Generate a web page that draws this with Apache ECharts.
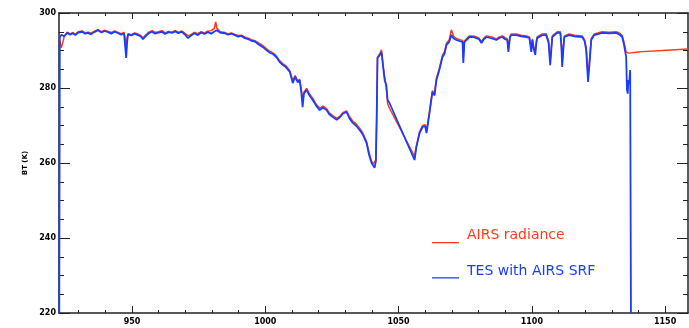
<!DOCTYPE html>
<html>
<head>
<meta charset="utf-8">
<title>AIRS vs TES brightness temperature</title>
<script src="https://cdn.jsdelivr.net/npm/echarts@6/dist/echarts.min.js"></script>
<style>
  html, body { margin: 0; padding: 0; background: #fff; }
  #chart { width: 689px; height: 328px; }
</style>
</head>
<body>
<div id="chart"></div>
<script>
// Wavenumber (cm-1) shared by both spectra
const wavenumber = [
  922.7, 922.9, 923.5, 924.5, 925.7, 926.8, 927.8, 928.7, 929.8, 931.3,
  932.4, 933.5, 934.6, 935.8, 937.3, 938.5, 939.7, 941.0, 942.2, 943.5,
  944.8, 945.9, 947.0, 947.5, 947.8, 948.2, 948.5, 949.8, 951.0, 952.2,
  953.2, 954.1, 955.2, 956.3, 957.5, 958.7, 960.0, 961.2, 962.4, 963.7,
  965.0, 966.2, 967.4, 968.7, 969.9, 971.0, 972.2, 973.4, 974.7, 975.9,
  977.2, 978.5, 979.7, 980.8, 981.4, 981.8, 983.0, 984.8, 986.0, 987.3,
  988.6, 989.8, 991.0, 992.3, 993.6, 994.8, 996.1, 997.5, 999.1, 1000.3,
  1001.7, 1003.0, 1004.2, 1005.4, 1006.5, 1007.8, 1009.2, 1010.3, 1011.2, 1012.2,
  1012.9, 1013.5, 1014.0, 1014.5, 1015.5, 1016.6, 1017.8, 1018.9, 1020.4, 1021.6,
  1023.0, 1024.0, 1025.2, 1026.8, 1028.0, 1029.2, 1030.5, 1031.5, 1032.8, 1034.0,
  1035.4, 1036.6, 1038.0, 1039.0, 1039.9, 1040.5, 1041.0, 1041.5, 1041.8, 1042.1,
  1043.0, 1043.6, 1044.3, 1044.8, 1045.4, 1045.9, 1046.6, 1056.0, 1056.7, 1057.9,
  1059.0, 1060.0, 1060.5, 1061.6, 1062.7, 1063.5, 1064.2, 1065.3, 1066.5, 1067.2,
  1068.0, 1069.0, 1069.8, 1070.7, 1071.7, 1073.0, 1074.0, 1074.3, 1074.7, 1075.5,
  1076.6, 1078.0, 1079.2, 1080.2, 1081.1, 1082.0, 1083.0, 1085.0, 1086.7, 1088.0,
  1088.9, 1090.0, 1090.8, 1091.2, 1091.8, 1092.3, 1094.2, 1096.0, 1098.0, 1099.1,
  1099.8, 1100.2, 1100.7, 1101.3, 1101.7, 1102.0, 1103.9, 1105.4, 1106.3, 1106.9,
  1107.3, 1107.7, 1109.5, 1110.7, 1111.1, 1111.4, 1111.8, 1112.2, 1114.0, 1116.0,
  1118.9, 1119.8, 1120.4, 1121.1, 1121.6, 1122.3, 1123.4, 1126.4, 1129.0, 1131.6,
  1133.0, 1133.9, 1134.6, 1135.4, 1135.7, 1136.0, 1136.2, 1136.5, 1136.9, 1137.2,
  1140.0, 1141.5, 1149.0, 1158.6
];

// AIRS radiance brightness temperature (K)
const airsBT = [
  null, 292.5, 290.7, 293.6, 294.9, 294.4, 294.8, 294.3, 295.0, 295.2,
  294.7, 294.9, 294.6, 295.1, 295.6, 295.0, 295.4, 295.1, 294.8, 295.2,
  294.8, 294.5, 294.8, 293.0, 291.5, 293.6, 294.5, 294.2, 294.7, 294.4,
  294.0, 293.4, 294.2, 294.9, 295.3, 294.8, 295.0, 295.3, 294.7, 295.1,
  294.9, 295.3, 294.9, 295.2, 294.6, 293.9, 294.3, 294.8, 294.5, 295.0,
  294.7, 295.2, 295.3, 295.8, 297.6, 296.0, 295.0, 294.8, 294.4, 294.7,
  294.3, 294.0, 294.1, 293.6, 293.3, 292.9, 292.6, 292.0, 291.3, 290.6,
  289.8, 289.3, 288.5, 287.3, 286.5, 285.9, 284.6, 282.0, 283.3, 281.8,
  282.4, 279.6, 277.0, 278.9, 279.9, 278.4, 277.3, 275.9, 274.6, 275.2,
  274.5, 273.4, 272.7, 271.9, 272.5, 273.5, 273.9, 272.5, 271.2, 270.5,
  269.3, 268.0, 265.7, 262.6, 260.4, 259.7, 259.2, 260.8, 272.5, 288.2,
  289.2, 290.2, 285.6, 282.8, 280.0, 275.8, 274.6, 261.8, 264.6, 268.4,
  270.0, 270.2, 268.5, 273.7, 279.3, 278.5, 282.6, 285.2, 288.8, 289.6,
  292.0, 292.8, 295.5, 293.8, 293.2, 292.9, 292.7, 288.0, 292.5, 293.1,
  293.9, 293.9, 293.6, 293.3, 292.4, 293.3, 293.9, 293.6, 293.1, 293.7,
  293.9, 293.4, 293.1, 290.5, 293.8, 294.4, 294.4, 294.1, 293.9, 293.6,
  290.6, 293.1, 291.0, 289.8, 292.4, 293.6, 294.4, 294.5, 292.6, 287.4,
  290.6, 293.9, 295.0, 295.0, 291.8, 287.0, 290.8, 293.9, 294.4, 294.1,
  293.9, 292.9, 290.8, 283.2, 287.0, 293.2, 294.4, 295.0, 294.9, 295.0,
  294.6, 294.0, 292.2, 289.5, 289.3, 289.3, 289.3, 289.3, 289.3, 289.4,
  289.6, 289.7, 290.0, 290.4
];

// TES convolved with AIRS SRF brightness temperature (K)
const tesBT = [
  220.0, 293.5, 294.2, 293.8, 294.7, 294.2, 294.6, 294.1, 294.8, 295.0,
  294.5, 294.7, 294.3, 294.9, 295.4, 294.8, 295.2, 294.9, 294.5, 295.0,
  294.6, 294.2, 294.6, 290.5, 288.0, 292.5, 294.3, 294.0, 294.5, 294.1,
  293.8, 293.0, 293.9, 294.6, 295.0, 294.5, 294.8, 295.0, 294.4, 294.9,
  294.7, 295.1, 294.6, 295.0, 294.2, 293.3, 294.0, 294.6, 294.1, 294.8,
  294.4, 294.9, 294.5, 295.0, 295.2, 295.4, 294.8, 294.6, 294.2, 294.5,
  294.1, 293.7, 293.9, 293.3, 293.0, 292.6, 292.4, 291.6, 290.9, 290.2,
  289.4, 289.0, 288.2, 286.9, 286.2, 285.5, 284.3, 281.3, 283.0, 281.5,
  282.1, 279.0, 274.9, 278.5, 279.5, 278.0, 276.8, 275.5, 274.1, 274.8,
  274.1, 273.0, 272.3, 271.5, 272.2, 273.2, 273.6, 272.0, 270.7, 270.0,
  268.8, 267.6, 265.3, 262.0, 260.0, 259.3, 258.7, 260.5, 272.3, 288.0,
  288.8, 289.6, 285.0, 282.1, 280.8, 276.8, 276.0, 260.8, 264.3, 268.0,
  269.6, 269.8, 268.0, 273.3, 278.9, 278.0, 282.1, 284.8, 288.3, 289.0,
  291.5, 292.3, 294.1, 293.2, 292.8, 292.5, 292.3, 286.7, 292.2, 292.8,
  293.6, 293.6, 293.3, 293.0, 292.0, 293.0, 293.6, 293.2, 292.8, 293.4,
  293.6, 293.0, 292.8, 289.6, 293.5, 294.1, 294.1, 293.8, 293.6, 293.3,
  289.6, 292.8, 290.5, 288.8, 292.0, 293.3, 294.1, 294.1, 292.0, 286.1,
  290.0, 293.6, 294.7, 294.7, 291.0, 285.6, 290.0, 293.6, 294.1, 293.8,
  293.6, 292.5, 290.1, 281.6, 286.0, 292.8, 294.1, 294.7, 294.6, 294.7,
  294.2, 293.6, 291.5, 288.3, 279.5, 278.5, 282.1, 281.0, 284.8, 220.0,
  null, null, null, null
];

// Axis ticks
const xMajorTicks = [950, 1000, 1050, 1100, 1150];
const xMinorTicks = [930, 940, 960, 970, 980, 990, 1010, 1020, 1030, 1040,
  1060, 1070, 1080, 1090, 1110, 1120, 1130, 1140];
const yMajorTicks = [220, 240, 260, 280, 300];
const yMinorTicks = [225, 230, 235, 245, 250, 255, 265, 270, 275, 285, 290, 295];

const seriesNames = ["AIRS radiance", "TES with AIRS SRF"];
const seriesColors = ["#ff3a1a", "#1a3cff"];

const xMin = 922.6;
const xMax = 1158.6;
const yMin = 220;
const yMax = 300;

const frameColor = "#222";
const labelFont = { fontSize: 8, color: "#000", fontFamily: "DejaVu Sans", fontWeight: "bold" };

function makeX(position, ticks, len, withLine, withLabel) {
  return {
    type: "value", min: xMin, max: xMax, position: position,
    axisLine: { show: withLine, onZero: false, lineStyle: { color: frameColor, width: 1.5 } },
    axisTick: { show: true, inside: true, length: len, customValues: ticks,
      lineStyle: { color: frameColor, width: 1 } },
    axisLabel: withLabel
      ? Object.assign({ show: true, customValues: ticks, margin: 5, formatter: (v) => String(v) }, labelFont)
      : { show: false },
    splitLine: { show: false },
  };
}

function makeY(position, ticks, len, withLine, withLabel) {
  const axis = {
    type: "value", min: yMin, max: yMax, position: position,
    axisLine: { show: withLine, onZero: false, lineStyle: { color: frameColor, width: 1.5 } },
    axisTick: { show: true, inside: true, length: len, customValues: ticks,
      lineStyle: { color: frameColor, width: 1 } },
    axisLabel: withLabel
      ? Object.assign({ show: true, customValues: ticks, margin: 3, formatter: (v) => String(v) }, labelFont)
      : { show: false },
    splitLine: { show: false },
  };
  if (withLabel) {
    axis.name = "BT (K)";
    axis.nameLocation = "middle";
    axis.nameRotate = 90;
    axis.nameGap = 27;
    axis.nameTextStyle = { fontSize: 7, color: "#000", fontFamily: "DejaVu Sans", fontWeight: "bold" };
  }
  return axis;
}

const chart = echarts.init(document.getElementById("chart"), null, { renderer: "canvas" });

const pairs = (ys) => wavenumber.map((x, i) => [x, ys[i]]);

const option = {
  animation: false,
  backgroundColor: "#fff",
  grid: { left: 59, right: 1, top: 13, bottom: 15 },
  legend: {
    orient: "vertical",
    left: 427,
    top: 223,
    itemGap: 20,
    itemWidth: 27,
    itemHeight: 16,
    // tiny speck at the top keeps the underline at the bottom of the icon box
    icon: "path://M0,0 L0.01,0 L0.01,0.01 Z M0,14 L27,14 L27,15.3 L0,15.3 Z",
    textStyle: { fontSize: 14, fontFamily: "DejaVu Sans", padding: [0, 0, 0, 3] },
    data: seriesNames.map((n, i) => ({ name: n, textStyle: { color: seriesColors[i] } })),
  },
  xAxis: [
    makeX("bottom", xMajorTicks, 7, true, true),
    makeX("bottom", xMinorTicks, 3, false, false),
    makeX("top", xMajorTicks, 6, true, false),
    makeX("top", xMinorTicks, 3, false, false),
  ],
  yAxis: [
    makeY("left", yMajorTicks, 11, true, true),
    makeY("left", yMinorTicks, 5, false, false),
    makeY("right", yMajorTicks, 11, true, false),
    makeY("right", yMinorTicks, 5, false, false),
  ],
  series: [
    {
      name: seriesNames[0], type: "line", xAxisIndex: 0, yAxisIndex: 0,
      data: pairs(airsBT), showSymbol: false, connectNulls: false,
      itemStyle: { color: seriesColors[0] },
      lineStyle: { color: seriesColors[0], width: 1.5 },
    },
    {
      name: seriesNames[1], type: "line", xAxisIndex: 0, yAxisIndex: 0,
      data: pairs(tesBT), showSymbol: false, connectNulls: false,
      itemStyle: { color: seriesColors[1] },
      lineStyle: { color: seriesColors[1], width: 1.8 },
    },
  ],
};

chart.setOption(option);
</script>
</body>
</html>
